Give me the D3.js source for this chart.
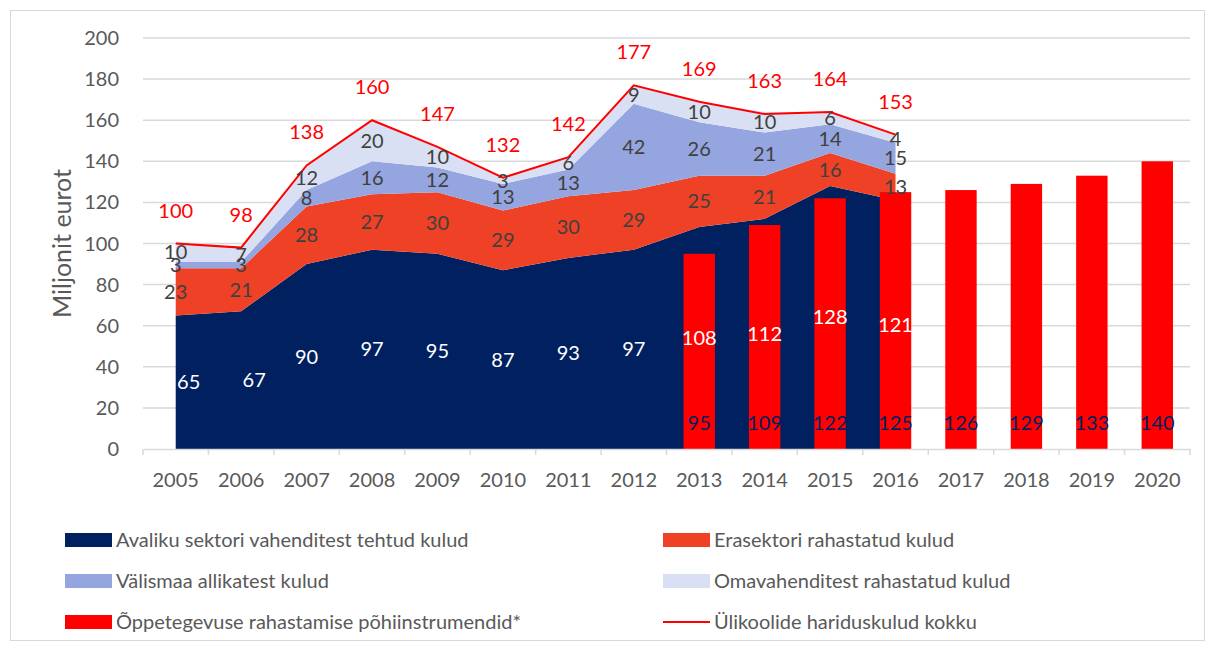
<!DOCTYPE html>
<html lang="et">
<head>
<meta charset="UTF-8">
<title>Ülikoolide hariduskulud</title>
<script src="https://d3js.org/d3.v7.min.js"></script>
<style>
  body { margin: 0; background: #fff; }
  text { font-family: Lato, "Noto Sans", sans-serif; }
  .grid line { stroke: #d9d9d9; stroke-width: 1.5; }
</style>
</head>
<body>
<svg id="chart" width="1215" height="649"></svg>
<script>
// data
const years = ['2005','2006','2007','2008','2009','2010','2011','2012','2013','2014','2015','2016','2017','2018','2019','2020'];
const areaYears = years.slice(0, 12);
const avalik = [65, 67, 90, 97, 95, 87, 93, 97, 108, 112, 128, 121];
const erasektor = [23, 21, 28, 27, 30, 29, 30, 29, 25, 21, 16, 13];
const valismaa = [3, 3, 8, 16, 12, 13, 13, 42, 26, 21, 14, 15];
const omavahendid = [10, 7, 12, 20, 10, 3, 6, 9, 10, 10, 6, 4];
const kokku = [100, 98, 138, 160, 147, 132, 142, 177, 169, 163, 164, 153];
const barYears = ['2013','2014','2015','2016','2017','2018','2019','2020'];
const pohiinstrumendid = [95, 109, 122, 125, 126, 129, 133, 140];
const yTicks = [0, 20, 40, 60, 80, 100, 120, 140, 160, 180, 200];

const seriesNames = ['Avaliku sektori vahenditest tehtud kulud', 'Erasektori rahastatud kulud',
  'Välismaa allikatest kulud', 'Omavahenditest rahastatud kulud'];
const seriesColors = ['#002060', '#ef4126', '#95a5df', '#dae0f3'];
const labelColors = ['#ffffff', '#404040', '#404040', '#404040'];
const barName = 'Õppetegevuse rahastamise põhiinstrumendid*';
const lineName = 'Ülikoolide hariduskulud kokku';

const svg = d3.select('#chart');
const plotLeft = 143, plotRight = 1190, plotTop = 38, plotBottom = 449;

const x = d3.scaleBand().domain(years).range([plotLeft, plotRight]).padding(0);
const y = d3.scaleLinear().domain([0, 200]).range([plotBottom, plotTop]);
const cx = yr => x(yr) + x.bandwidth() / 2;

// outer frame
svg.append('rect')
    .attr('x', 10.5).attr('y', 10.5)
    .attr('width', 1194).attr('height', 630)
    .attr('fill', 'none').attr('stroke', '#d9d9d9');

// gridlines
svg.append('g').attr('class', 'grid')
    .selectAll('line').data(yTicks.filter(d => d > 0)).join('line')
    .attr('x1', plotLeft).attr('x2', plotRight)
    .attr('y1', d => y(d)).attr('y2', d => y(d));

// y tick labels
svg.append('g').selectAll('text').data(yTicks).join('text')
    .attr('x', 119).attr('y', d => y(d)).attr('dy', '0.35em')
    .attr('text-anchor', 'end').attr('font-size', 20).attr('fill', '#595959')
    .text(d => d);

svg.append('text')
    .attr('transform', `translate(71,${(plotTop + plotBottom) / 2}) rotate(-90)`)
    .attr('text-anchor', 'middle').attr('font-size', 25).attr('fill', '#595959')
    .text('Miljonit eurot');

// stacked areas
const table = areaYears.map((yr, i) => ({
    year: yr, a: avalik[i], b: erasektor[i], c: valismaa[i], d: omavahendid[i]
}));
const stack = d3.stack().keys(['a', 'b', 'c', 'd'])(table);
const area = d3.area()
    .x(d => cx(d.data.year))
    .y0(d => y(d[0]))
    .y1(d => y(d[1]));

svg.append('g').selectAll('path').data(stack).join('path')
    .attr('fill', (d, i) => seriesColors[i])
    .attr('d', area);

// bars
const barW = x.bandwidth() * 0.48;
svg.append('g').selectAll('rect').data(barYears).join('rect')
    .attr('x', d => cx(d) - barW / 2)
    .attr('width', barW)
    .attr('y', (d, i) => y(pohiinstrumendid[i]))
    .attr('height', (d, i) => plotBottom - y(pohiinstrumendid[i]))
    .attr('fill', '#ff0000');

// total line
const line = d3.line().x((d, i) => cx(areaYears[i])).y(d => y(d));
svg.append('path').datum(kokku)
    .attr('d', line)
    .attr('fill', 'none').attr('stroke', '#ff0000').attr('stroke-width', 2);

// x axis
const xAxis = svg.append('g').attr('transform', `translate(0,${plotBottom})`)
    .call(d3.axisBottom(x).tickSize(0).tickPadding(24));
xAxis.select('.domain').attr('stroke', '#d9d9d9').attr('stroke-width', 1.5);
xAxis.selectAll('text').attr('font-size', 20).attr('fill', '#595959')
    .attr('font-family', 'Lato, "Noto Sans", sans-serif');
svg.append('g').selectAll('line').data(years.concat(['end'])).join('line')
    .attr('x1', d => d === 'end' ? plotRight : x(d))
    .attr('x2', d => d === 'end' ? plotRight : x(d))
    .attr('y1', plotBottom).attr('y2', plotBottom + 6)
    .attr('stroke', '#d9d9d9').attr('stroke-width', 1.5);

// area labels (the first two navy labels sit a little inside the area, as in Excel)
stack.forEach((s, si) => {
    svg.append('g').selectAll('text').data(s).join('text')
        .attr('x', (d, i) => cx(d.data.year) + (si === 0 && i < 2 ? 13 : 0))
        .attr('y', d => y((d[0] + d[1]) / 2))
        .attr('dy', '0.35em')
        .attr('text-anchor', 'middle').attr('font-size', 20)
        .attr('fill', labelColors[si])
        .text(d => d.data[s.key]);
});

// bar labels
svg.append('g').selectAll('text').data(barYears).join('text')
    .attr('x', d => cx(d)).attr('y', y(12.5)).attr('dy', '0.35em')
    .attr('text-anchor', 'middle').attr('font-size', 20).attr('fill', '#002060')
    .text((d, i) => pohiinstrumendid[i]);

// total labels
svg.append('g').selectAll('text').data(kokku).join('text')
    .attr('x', (d, i) => cx(areaYears[i]))
    .attr('y', d => y(d) - 33).attr('dy', '0.35em')
    .attr('text-anchor', 'middle').attr('font-size', 20).attr('fill', '#ff0000')
    .text(d => d);

// legend
const legend = [
    { name: seriesNames[0], color: seriesColors[0], type: 'rect' },
    { name: seriesNames[1], color: seriesColors[1], type: 'rect' },
    { name: seriesNames[2], color: seriesColors[2], type: 'rect' },
    { name: seriesNames[3], color: seriesColors[3], type: 'rect' },
    { name: barName, color: '#ff0000', type: 'rect' },
    { name: lineName, color: '#ff0000', type: 'line' }
];
const lg = svg.append('g').selectAll('g').data(legend).join('g')
    .attr('transform', (d, i) => `translate(${i % 2 ? 663 : 65},${540 + Math.floor(i / 2) * 41})`);
lg.filter(d => d.type === 'rect').append('rect')
    .attr('x', 0).attr('y', -7).attr('width', 47).attr('height', 14)
    .attr('fill', d => d.color);
lg.filter(d => d.type === 'line').append('line')
    .attr('x1', 0).attr('x2', 47).attr('y1', 0).attr('y2', 0)
    .attr('stroke', d => d.color).attr('stroke-width', 2);
lg.append('text')
    .attr('x', 51).attr('dy', '0.35em')
    .attr('font-size', 20).attr('fill', '#595959')
    .text(d => d.name);
</script>
</body>
</html>
